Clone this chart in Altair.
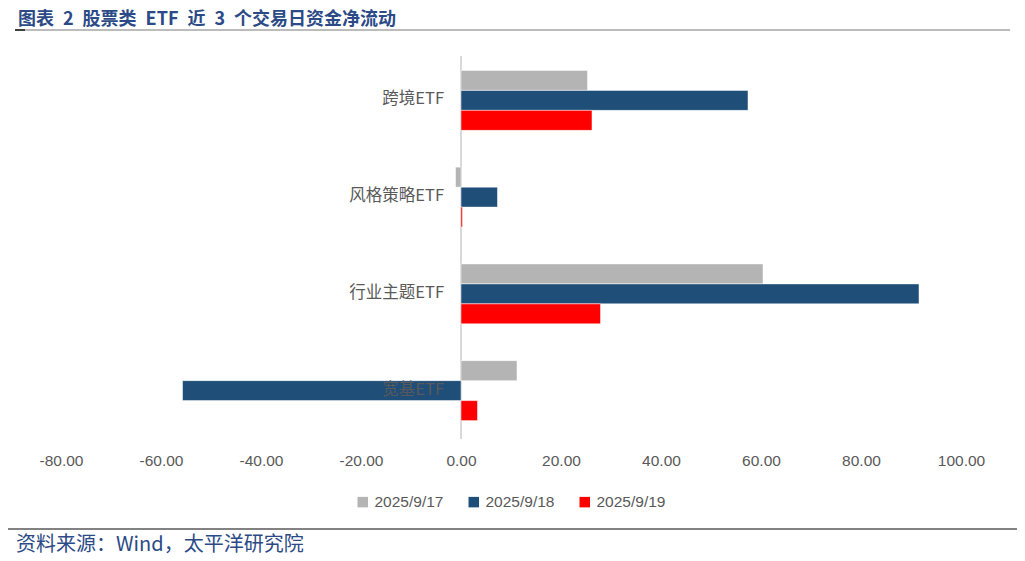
import altair as alt
import pandas as pd

categories = ["跨境ETF", "风格策略ETF", "行业主题ETF", "宽基ETF"]
dates = ["2025/9/17", "2025/9/18", "2025/9/19"]
colors = ["#b4b4b4", "#1f4e79", "#ff0000"]
v_0917 = [25.3, -1.1, 60.4, 11.2]
v_0918 = [57.4, 7.3, 91.6, -55.7]
v_0919 = [26.2, 0.3, 27.9, 3.3]
x_ticks = [-80, -60, -40, -20, 0, 20, 40, 60, 80, 100]

title_text = "图表\u20022\u2002股票类\u2002ETF\u2002近\u20023\u2002个交易日资金净流动"
source_text = "资料来源：Wind，太平洋研究院"

rows = []
for d, vals in zip(dates, [v_0917, v_0918, v_0919]):
    for c, v in zip(categories, vals):
        rows.append({"cat": c, "date": d, "value": v})
df = pd.DataFrame(rows)
cat_df = pd.DataFrame({"cat": categories})

W, H = 900, 387
label_font = "Liberation Sans"
cjk = "Noto Sans CJK SC"

y_enc = alt.Y("cat:N", sort=categories, axis=None,
              scale=alt.Scale(paddingInner=0.38, paddingOuter=0.19))

bars = alt.Chart(df).mark_bar(stroke="white", strokeWidth=0.5).encode(
    x=alt.X("value:Q",
            scale=alt.Scale(domain=[-80, 100], nice=False, zero=False),
            axis=alt.Axis(values=x_ticks, format=".2f", title=None, domain=False,
                          ticks=False, grid=False, labelPadding=14, labelFlush=False,
                          labelExpr="replace(datum.label, '\u2212', '-')",
                          labelFontSize=15.5, labelFont=label_font,
                          labelColor="#595959")),
    y=y_enc,
    yOffset=alt.YOffset("date:N", sort=dates,
                        scale=alt.Scale(paddingInner=0, paddingOuter=0)),
    color=alt.Color("date:N", sort=dates,
                    scale=alt.Scale(domain=dates, range=colors),
                    legend=alt.Legend(title=None, orient="none", direction="horizontal",
                                      legendX=294, legendY=442,
                                      symbolType="square", symbolSize=110,
                                      symbolStrokeWidth=0, labelFontSize=15.5,
                                      labelFont=label_font, labelColor="#595959",
                                      labelOffset=4, columnPadding=22)),
)

zero = alt.Chart(pd.DataFrame({"z": [0]})).mark_rule(color="#d9d9d9", strokeWidth=2).encode(
    x=alt.X("z:Q"), y=alt.value(4), y2=alt.value(H)
)

cat_labels = alt.Chart(cat_df).mark_text(
    align="right", baseline="middle", dx=-17, dy=-1, fontSize=16.5, font=cjk, color="#595959"
).encode(
    x=alt.datum(0),
    y=y_enc,
    text="cat:N",
)

one = alt.Data(values=[{"a": 1}])

title = alt.Chart(one).mark_text(
    align="left", baseline="middle", fontSize=18, fontWeight="bold", font=cjk, color="#2b4a86"
).encode(x=alt.value(-43), y=alt.value(-32), text=alt.value(title_text))

title_line = alt.Chart(one).mark_rule(color="#a6a6a6", strokeWidth=1.5).encode(
    x=alt.value(-46), x2=alt.value(949), y=alt.value(-22))
title_line_dark = alt.Chart(one).mark_rule(color="#404040", strokeWidth=2).encode(
    x=alt.value(-46), x2=alt.value(-36), y=alt.value(-22))

bottom_line = alt.Chart(one).mark_rule(color="#595959", strokeWidth=1.5).encode(
    x=alt.value(-56), x2=alt.value(959), y=alt.value(477))

source = alt.Chart(one).mark_text(
    align="left", baseline="middle", fontSize=20, font=cjk, color="#2b4a86"
).encode(x=alt.value(-45), y=alt.value(493), text=alt.value(source_text))

chart = alt.layer(
    zero, bars, cat_labels, title, title_line, title_line_dark, bottom_line, source
).properties(
    width=W, height=H,
    autosize=alt.AutoSizeParams(type="none"),
    padding={"left": 53, "top": 44, "right": 56, "bottom": 130},
).configure_view(stroke=None)

chart.save("out.html", embed_options={"renderer": "svg", "actions": False})
